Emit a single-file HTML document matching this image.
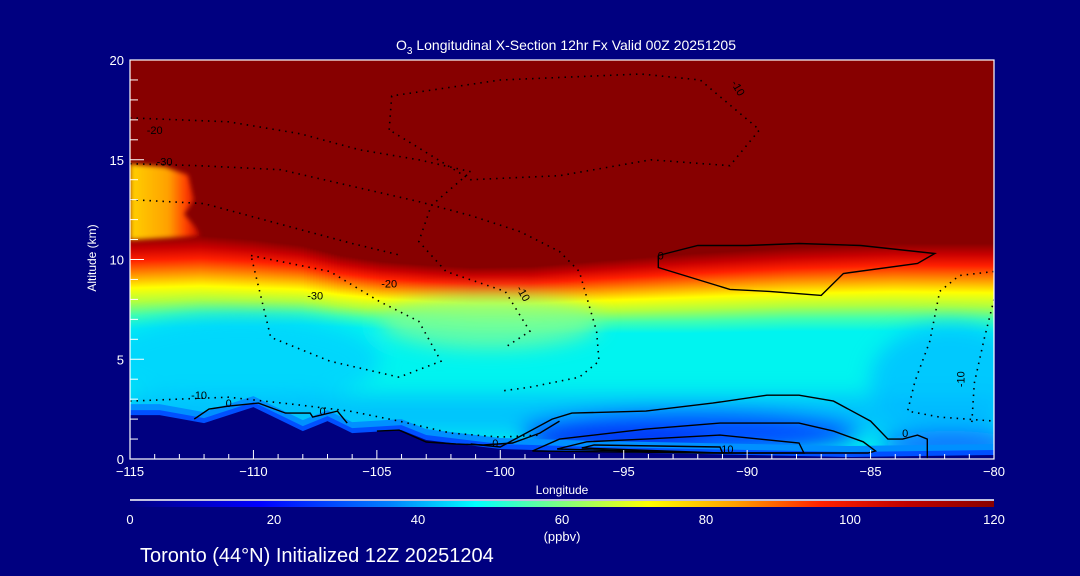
<!DOCTYPE html>
<html><head><meta charset="utf-8"><style>
html,body{margin:0;padding:0;background:#000080;}
svg{display:block;font-family:"Liberation Sans",sans-serif;}
</style></head><body>
<svg id="chart" width="1080" height="576" viewBox="0 0 1080 576" xmlns="http://www.w3.org/2000/svg">
<defs>
<linearGradient id="tropGrad" x1="0" y1="0" x2="0" y2="1">
<stop offset="0" stop-color="#870000"/><stop offset="0.12" stop-color="#c80000"/>
<stop offset="0.25" stop-color="#ff2000"/><stop offset="0.4" stop-color="#ff9000"/>
<stop offset="0.55" stop-color="#ffff00"/><stop offset="0.7" stop-color="#b0ff40"/>
<stop offset="0.85" stop-color="#40ffb0"/><stop offset="1" stop-color="#00f4f0"/>
</linearGradient>
<linearGradient id="bumpGrad" x1="0" y1="0" x2="1" y2="0">
<stop offset="0" stop-color="#ffd000"/><stop offset="0.55" stop-color="#ffa000"/>
<stop offset="0.8" stop-color="#ff4000"/><stop offset="1" stop-color="#c00000"/>
</linearGradient>
<linearGradient id="cbarGrad" x1="0" y1="0" x2="1" y2="0">
<stop offset="0" stop-color="#000080"/><stop offset="0.15" stop-color="#0000ff"/>
<stop offset="0.3" stop-color="#0080ff"/><stop offset="0.4" stop-color="#00ffff"/>
<stop offset="0.5" stop-color="#80ff80"/><stop offset="0.6" stop-color="#ffff00"/>
<stop offset="0.7" stop-color="#ffa000"/><stop offset="0.8" stop-color="#ff2000"/>
<stop offset="0.9" stop-color="#c00000"/><stop offset="1" stop-color="#870000"/>
</linearGradient>
<filter id="blur" x="-30%" y="-30%" width="160%" height="160%"><feGaussianBlur stdDeviation="10"/></filter>
<filter id="blur2" x="-30%" y="-30%" width="160%" height="160%"><feGaussianBlur stdDeviation="2.5"/></filter>
<clipPath id="plotClip"><rect x="130" y="60" width="864" height="399"/></clipPath>
</defs>
<g id="field" clip-path="url(#plotClip)">
<rect x="130" y="60" width="864" height="399" fill="#870000"/>
</g>
<g id="contours" clip-path="url(#plotClip)"></g>
<g id="axes"></g>
<text x="566" y="50" fill="#fff" font-size="14" text-anchor="middle">O<tspan font-size="10" dy="4">3</tspan><tspan dy="-4"> Longitudinal X-Section 12hr  Fx Valid 00Z 20251205</tspan></text>
<text x="562" y="494" fill="#fff" font-size="12" text-anchor="middle">Longitude</text>
<text x="0" y="0" fill="#fff" font-size="12" text-anchor="middle" transform="translate(96,258) rotate(-90)">Altitude (km)</text>
<line x1="130" y1="500" x2="994" y2="500" stroke="#fff" stroke-width="1.5"/>
<rect x="130" y="501" width="864" height="6" fill="url(#cbarGrad)"/>
<g id="cbarLabels"></g>
<text x="562" y="541" fill="#fff" font-size="13" text-anchor="middle">(ppbv)</text>
<text x="140" y="562" fill="#fff" font-size="20">Toronto (44°N) Initialized 12Z 20251204</text>
</svg>
<script>
// ---- data ----
const xTicks = [-115, -110, -105, -100, -95, -90, -85, -80];
const yTicks = [0, 5, 10, 15, 20];
const cbarTicks = [0, 20, 40, 60, 80, 100, 120];
const tropLon = [-115, -112.2, -110.1, -108.1, -106.5, -104.9, -102.8, -101.2, -98.8, -96.4, -94.3, -92.3, -88.2, -84.1, -80];
const tropAlt = [11.1, 11.2, 11.0, 10.7, 10.2, 9.9, 9.7, 9.6, 9.65, 9.9, 10.1, 10.3, 10.6, 10.8, 10.8];
const tropDepth = [4.6, 4.6, 4.4, 4.0, 3.6, 3.4, 3.3, 3.3, 3.4, 3.6, 3.8, 4.0, 4.2, 4.4, 4.5];
const terrLon = [-115, -113.8, -112, -110, -108, -107, -106, -104, -103, -100, -96, -91.9, -85.8, -80];
const terrAlt = [2.2, 2.2, 1.8, 2.6, 1.4, 1.9, 1.3, 1.45, 0.95, 0.5, 0.35, 0.25, 0.1, 0.2];
const solidC1Lon = [-93.6, -92.0, -90.0, -87.9, -85.4, -82.4, -83.1, -86.1, -87.0, -89.1, -90.7, -93.6, -93.6];
const solidC1Alt = [10.2, 10.7, 10.7, 10.8, 10.7, 10.3, 9.8, 9.3, 8.2, 8.4, 8.5, 9.6, 10.2];
const solidC2Lon = [-101.2, -100.0, -97.9, -97.1, -94.1, -91.4, -89.2, -87.9, -86.5, -85.0, -84.3, -83.7, -83.1, -82.7, -82.7];
const solidC2Alt = [0.75, 0.6, 2.0, 2.3, 2.4, 2.8, 3.2, 3.2, 2.9, 1.9, 1.0, 1.0, 1.2, 1.0, 0];
const solidC3Lon = [-98.7, -97.6, -94.1, -91.1, -87.9, -86.5, -85.3, -84.8, -85.1, -91.1, -98.7];
const solidC3Alt = [0.4, 1.0, 1.5, 1.8, 1.8, 1.4, 0.86, 0.4, 0.3, 0.3, 0.4];
const solidC4Lon = [-97.7, -96.5, -94.1, -91.1, -87.9, -87.7, -91.9, -97.7];
const solidC4Alt = [0.5, 0.86, 1.0, 1.2, 0.8, 0.3, 0.3, 0.5];
const solidC5Lon = [-96.7, -96.2, -91.1, -91.0, -96.7];
const solidC5Alt = [0.55, 0.7, 0.6, 0.3, 0.55];
const solidC6Lon = [-112.4, -111.8, -111.0, -109.8, -108.7, -107.7, -107.6, -106.6, -106.2];
const solidC6Alt = [2.0, 2.5, 2.65, 2.8, 2.3, 2.3, 2.1, 2.4, 1.8];
const solidC7Lon = [-105.0, -104.1, -103.0, -101.8, -100.7, -99.5, -98.4, -97.6];
const solidC7Alt = [1.4, 1.45, 0.85, 0.75, 0.7, 0.8, 1.3, 1.9];
const dotALon = [-115, -111.0, -108.1, -105.7, -103.3, -101.2, -102.8, -103.3, -102.2, -99.8, -98.8, -99.8];
const dotAAlt = [17.1, 16.9, 16.3, 15.5, 15.0, 14.4, 12.7, 10.9, 9.4, 8.4, 6.4, 5.6];
const dotBLon = [-115, -112.2, -108.9, -106.1, -103.3, -101.2, -99.2, -97.6, -96.8, -96.1, -96.0, -96.8, -98.8, -100.0];
const dotBAlt = [14.8, 14.7, 14.5, 13.7, 12.9, 12.2, 11.4, 10.4, 9.4, 6.4, 4.9, 4.1, 3.6, 3.4];
const dotCLon = [-104.5, -104.4, -100.0, -94.3, -91.9, -89.5, -90.7, -93.9, -97.6, -101.2, -104.5];
const dotCAlt = [16.5, 18.2, 19.0, 19.3, 19.0, 16.5, 14.7, 15.0, 14.2, 14.0, 16.5];
const dotDLon = [-80, -81.4, -82.2, -82.6, -83.2, -83.5, -82.2, -80];
const dotDAlt = [9.4, 9.2, 8.4, 5.9, 3.9, 2.4, 2.1, 1.9];
const dotELon = [-80, -80.4, -80.8, -80.9];
const dotEAlt = [8.0, 6.0, 3.8, 1.8];
const dotFLon = [-115, -113, -111, -108.1, -106.1, -104.1, -102, -100, -98.4];
const dotFAlt = [2.9, 3.0, 3.1, 2.7, 2.4, 1.9, 1.3, 1.1, 1.2];
const dotGLon = [-110.1, -106.9, -104.9, -103.3, -102.4, -104.1, -106.9, -109.3, -110.1];
const dotGAlt = [10.2, 9.4, 7.9, 6.9, 4.9, 4.1, 4.9, 6.1, 10.2];
const dotHLon = [-115, -112, -109, -106, -104];
const dotHAlt = [13.0, 12.8, 11.8, 10.8, 10.2];
const labelText = ["-20", "-30", "-10", "-20", "-30", "-10", "0", "0", "-10", "-10", "0", "0", "0", "10"];
const labelLon = [-114.0, -113.6, -90.5, -104.5, -107.5, -99.2, -93.5, -83.6, -81.2, -112.2, -111.0, -107.2, -100.2, -90.8];
const labelAlt = [16.3, 14.7, 18.5, 8.6, 8.0, 8.2, 10.0, 1.1, 4.0, 3.0, 2.6, 2.2, 0.6, 0.3];
const labelRot = [0, 0, 60, 0, 0, 60, 0, 0, -90, 0, 0, 0, 0, 0];

// ---- axis functions ----
const X0 = 130, X1 = 994, Y0 = 459, Y1 = 60;
const xs = lon => X0 + (lon + 115) / 35 * (X1 - X0);
const ys = alt => Y0 - alt / 20 * (Y0 - Y1);
const NS = "http://www.w3.org/2000/svg";
function mk(tag, attrs, parent) {
  const e = document.createElementNS(NS, tag);
  for (const k in attrs) e.setAttribute(k, attrs[k]);
  parent.appendChild(e);
  return e;
}
function interp(xa, ya, x) {
  if (x <= xa[0]) return ya[0];
  for (let i = 1; i < xa.length; i++) if (x <= xa[i]) {
    const t = (x - xa[i-1]) / (xa[i] - xa[i-1]); return ya[i-1] + t * (ya[i] - ya[i-1]);
  }
  return ya[ya.length - 1];
}
const field = document.getElementById('field');
const strips = mk('g', {}, field);


mk('rect', {x: X0, y: 300, width: X1 - X0, height: 160, fill: '#00f4f0'}, strips);
for (let px = X0; px < X1; px += 3) {
  const lon = -115 + (px - X0) / (X1 - X0) * 35;
  const a = interp(tropLon, tropAlt, lon), d = interp(tropLon, tropDepth, lon);
  const r = mk('rect', {x: px, y: ys(a), width: 3.5, height: ys(a - d) - ys(a), fill: 'url(#tropGrad)'}, strips);
  
  
}
const patches = mk('g', {filter: 'url(#blur)'}, field);


mk('ellipse', {cx: 490, cy: 322, rx: 110, ry: 26, fill: '#80ff90', opacity: 0.8}, patches);
mk('ellipse', {cx: 240, cy: 360, rx: 140, ry: 45, fill: '#00d0ff', opacity: 0.8}, patches);
mk('ellipse', {cx: 950, cy: 380, rx: 80, ry: 55, fill: '#00c4ff', opacity: 0.9}, patches);
mk('rect', {x: 120, y: 395, width: 880, height: 40, fill: '#00b8ff', opacity: 0.8}, patches);
mk('ellipse', {cx: 690, cy: 432, rx: 170, ry: 22, fill: '#0050ff'}, patches);
mk('ellipse', {cx: 620, cy: 443, rx: 90, ry: 9, fill: '#0010f0'}, patches);
mk('ellipse', {cx: 950, cy: 445, rx: 70, ry: 14, fill: '#1070ff'}, patches);
const bump = mk('path', {d: `M130 164 L165 167 L188 175 L194 200 L184 214 L196 228 L200 236 L130 240 Z`, fill: 'url(#bumpGrad)', filter: 'url(#blur2)'}, field);


function terrPath(offset) {
  let d = '';
  for (let i = 0; i < terrLon.length; i++) d += (i ? 'L' : 'M') + xs(terrLon[i]) + ' ' + ys(terrAlt[i] + offset) + ' ';
  return d + `L${X1} ${Y0 + 2} L${X0} ${Y0 + 2} Z`;
}
const b1 = mk('path', {d: terrPath(0.55), fill: '#0090ff'}, field);


const b2 = mk('path', {d: terrPath(0.25), fill: '#0050ff'}, field);


const terr = mk('path', {d: terrPath(0), fill: '#000080'}, field);



const cg = document.getElementById('contours');
function line(lons, alts, dotted, name) {
  const pts = lons.map((l, i) => xs(l).toFixed(1) + ',' + ys(alts[i]).toFixed(1)).join(' ');
  const p = mk('polyline', {points: pts, fill: 'none', stroke: '#000', 'stroke-width': dotted ? 1.6 : 1.4, 'stroke-dasharray': dotted ? '1.5 5' : 'none'}, cg);
  
  
}
line(solidC1Lon, solidC1Alt, false, 'contour-0-upper');
line(solidC2Lon, solidC2Alt, false, 'contour-0-lower');
line(solidC3Lon, solidC3Alt, false, 'contour-10');
line(solidC4Lon, solidC4Alt, false, 'contour-20');
line(solidC5Lon, solidC5Alt, false, 'contour-30');
line(solidC6Lon, solidC6Alt, false, 'contour-0-mountains');
line(solidC7Lon, solidC7Alt, false, 'contour-0-plains');
line(dotALon, dotAAlt, true, 'contour-neg10-a');
line(dotBLon, dotBAlt, true, 'contour-neg20');
line(dotCLon, dotCAlt, true, 'contour-neg10-top');
line(dotDLon, dotDAlt, true, 'contour-neg10-right');
line(dotELon, dotEAlt, true, 'contour-neg10-edge');
line(dotFLon, dotFAlt, true, 'contour-neg10-low');
line(dotGLon, dotGAlt, true, 'contour-neg30');
line(dotHLon, dotHAlt, true, 'contour-neg30-upper');
for (let i = 0; i < labelText.length; i++) {
  const x = xs(labelLon[i]), y = ys(labelAlt[i]);
  const t = mk('text', {x: x, y: y, 'font-size': 11, fill: '#000', 'text-anchor': 'middle', transform: `rotate(${labelRot[i]} ${x} ${y})`}, cg);
  t.textContent = labelText[i];
  
  
}

const ax = document.getElementById('axes');
const frame = mk('rect', {x: X0, y: Y1, width: X1 - X0, height: Y0 - Y1, fill: 'none', stroke: '#fff', 'stroke-width': 1.2}, ax);


for (let l = -115; l <= -80; l++) {
  const major = (l % 5 === 0);
  const t = mk('line', {x1: xs(l), x2: xs(l), y1: Y0, y2: Y0 - (major ? 9 : 5), stroke: '#fff'}, ax);
  
  
}
xTicks.forEach(v => {
  const t = mk('text', {x: xs(v), y: 476, fill: '#fff', 'font-size': 13, 'text-anchor': 'middle'}, ax);
  t.textContent = v < 0 ? '\u2212' + Math.abs(v) : v;
  
  
});
for (let a = 0; a <= 20; a++) {
  const major = (a % 5 === 0);
  const t = mk('line', {x1: X0, x2: X0 + (major ? 14 : 8), y1: ys(a), y2: ys(a), stroke: '#fff'}, ax);
  
  
}
yTicks.forEach(v => {
  const t = mk('text', {x: 124, y: ys(v) + 5, fill: '#fff', 'font-size': 13, 'text-anchor': 'end'}, ax);
  t.textContent = v;
  
  
});
const cb = document.getElementById('cbarLabels');
cbarTicks.forEach(v => {
  const t = mk('text', {x: X0 + v / 120 * (X1 - X0), y: 524, fill: '#fff', 'font-size': 13, 'text-anchor': 'middle'}, cb);
  t.textContent = v;
  
  
});
</script>
</body></html>
